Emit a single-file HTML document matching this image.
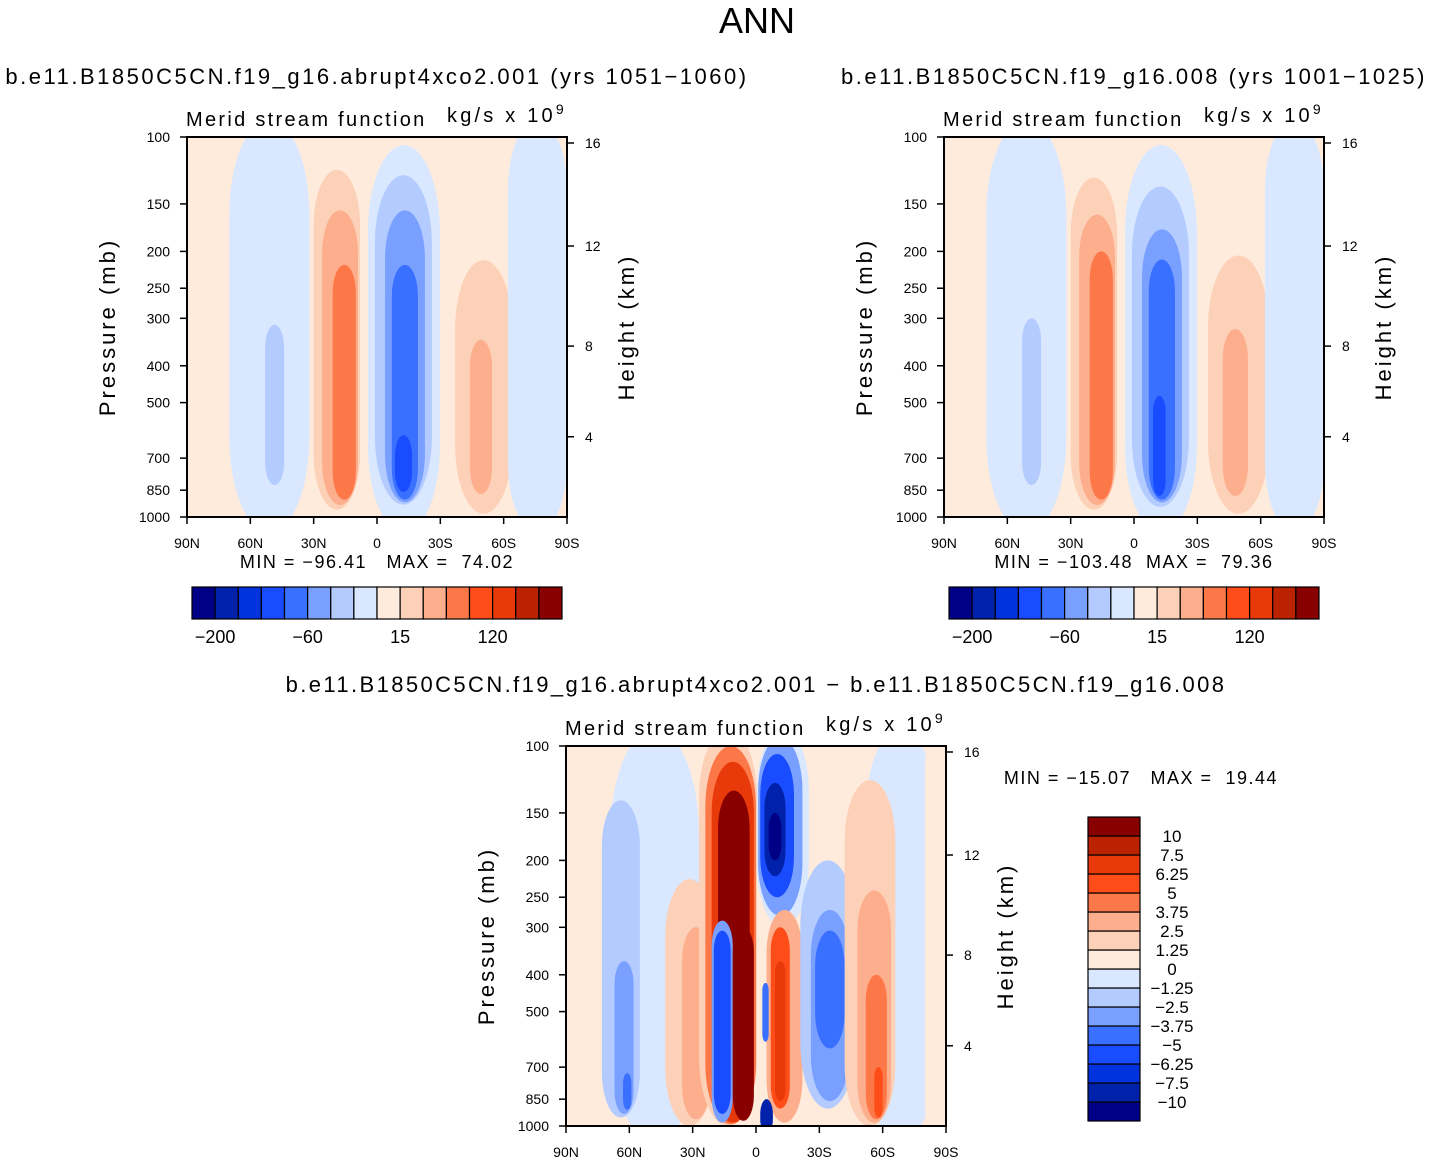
<!DOCTYPE html>
<html><head><meta charset="utf-8"><style>
body{margin:0;background:#fff;}
svg{display:block;font-family:"Liberation Sans",sans-serif;}
</style></head><body>
<svg id="s" width="1434" height="1163" viewBox="0 0 1434 1163" xmlns="http://www.w3.org/2000/svg">
<text x="757" y="33" font-size="36" text-anchor="middle">ANN</text>
</svg>
<script>
const colors=['#000086','#0022aa','#0033dd','#1a4cff','#3a70ff','#7aa0ff','#b3cbff','#d9e8ff','#ffebdb','#fdd0b8','#fdae8c','#fd7848','#ff4d1a','#e8390a','#bb2200','#880000'];
const pTicks=[100,150,200,250,300,400,500,700,850,1000];
const latTicks=[90,60,30,0,-30,-60,-90];
const latLabels=['90N','60N','30N','0','30S','60S','90S'];
const hTicks=[16,12,8,4];
const hPress=[103.7,193.6,355,615];
const cbLabelsTop=['-200','-60','15','120'];
const cbLabelsTopIdx=[1,5,9,13];
const cbLabelsDiff=['10','7.5','6.25','5','3.75','2.5','1.25','0','-1.25','-2.5','-3.75','-5','-6.25','-7.5','-10'];
// cells: [latNorth, latSouth, pTop, pBottom, level]
const cells1=[[70,32,90,1100,7],[53,44,312,824,6],[30,8,122,957,9],[26,9,156,930,10],[21,10,217,900,11],[4.3,-29.8,105,1100,7],[1,-26,126,928,6],[-3.8,-22.7,156,915,5],[-7,-19.4,217,900,4],[-8.5,-16.6,609,860,3],[-37,-64,211,980,9],[-44,-54.5,342,870,10],[-62,-90,90,1100,7]];
const cells2=[[70,32,90,1100,7],[53,44,300,824,6],[30,8,128,957,9],[26,9,160,930,10],[21,10,200,900,11],[4.3,-29.8,105,1100,7],[1,-26,135,940,6],[-3.8,-22.7,175,915,5],[-7,-19.4,210,900,4],[-9,-15,480,880,3],[-35,-64,205,980,9],[-42,-54,320,880,10],[-62,-90,90,1100,7]];
const cells3=[[69,27,90,1100,7],[73,55,139,950,6],[67,58,368,930,5],[63,59,726,906,4],[-52,-85,90,1100,7],[-80,-95,90,1100,8],[43,20,224,1000,9],[35,22,300,960,10],[27,-0.5,90,1000,9],[24,0,100,990,11],[21,1,110,980,13],[18,3,131,600,15],[21,11,288,980,5],[20,12,306,930,3],[11,1,300,969,15],[-0.5,-25,90,300,7],[-1,-22,95,280,5],[-2,-18,105,250,3],[-4,-14,125,220,1],[-6,-12,150,200,0],[-5,-22,270,980,10],[-7,-16,300,900,12],[-9,-14,368,860,13],[-3,-6,420,600,4],[-2,-8,850,1050,1],[-21,-47,200,900,6],[-26,-44,270,860,5],[-28,-42,306,625,4],[-42,-66,123,1000,9],[-48,-64,240,980,10],[-52,-62,400,960,11],[-56,-60,700,950,12]];
const NS='http://www.w3.org/2000/svg';
const svg=document.getElementById('s');
function el(t,a,p){const e=document.createElementNS(NS,t);for(const k in a)e.setAttribute(k,a[k]);(p||svg).appendChild(e);return e;}
function txt(x,y,s,size,anchor,p){const e=el('text',{x:x,y:y,'font-size':size,'text-anchor':anchor||'start'},p);e.textContent=s;return e;}
const W=380,H=380;
function panel(x0,y0,cells,name,clipId){
  const X=lat=>x0+(90-lat)/180*W;
  const Y=p=>y0+Math.log10(p/100)*H;
  const g=el('g',{});
  
  
  const cp=el('clipPath',{id:clipId},g);el('rect',{x:x0,y:y0,width:W,height:H},cp);
  const cg=el('g',{'clip-path':'url(#'+clipId+')'},g);
  el('rect',{x:x0,y:y0,width:W,height:H,fill:colors[8]},cg);
  cells.forEach(c=>{
    const xa=X(c[0]),xb=X(c[1]),ya=Y(c[2]),yb=Y(c[3]);
    const w=xb-xa,h=yb-ya;
    const r=el('rect',{x:xa,y:ya,width:w,height:h,rx:w/2,ry:Math.min(w*1.2,h/2),fill:colors[c[4]]},cg);
    
    
  });
  el('rect',{x:x0,y:y0,width:W,height:H,fill:'none',stroke:'#000','stroke-width':2},g);
  pTicks.forEach(p=>{const y=Y(p);el('line',{x1:x0-7,x2:x0,y1:y,y2:y,stroke:'#000','stroke-width':1.5},g);
    const t=txt(x0-17,y+5,String(p),14,'end',g);});
  latTicks.forEach((l,i)=>{const x=X(l);el('line',{x1:x,x2:x,y1:y0+H,y2:y0+H+7,stroke:'#000','stroke-width':1.5},g);
    const t=txt(x,y0+H+31,latLabels[i],14,'middle',g);});
  hTicks.forEach((h,i)=>{const y=Y(hPress[i]);el('line',{x1:x0+W,x2:x0+W+7,y1:y,y2:y,stroke:'#000','stroke-width':1.5},g);
    const t=txt(x0+W+18,y+5,String(h),14,'start',g);});
  let t=txt(0,0,'Pressure (mb)',22,'middle',g);t.setAttribute('transform','translate('+(x0-72)+','+(y0+190)+') rotate(-90)');t.setAttribute('letter-spacing','3');
  
  t=txt(0,0,'Height (km)',22,'middle',g);t.setAttribute('transform','translate('+(x0+W+67)+','+(y0+190)+') rotate(-90)');t.setAttribute('letter-spacing','3');
  
  t=txt(x0-1,y0-11,'Merid stream function',20,'start',g);t.setAttribute('letter-spacing','2.3');
  t=txt(x0+260,y0-15,'kg/s x 10',20,'start',g);t.setAttribute('letter-spacing','3.2');
  const sup=el('tspan',{dy:-8,'font-size':14},t);sup.textContent='9';
}
function hbar(x0,y0,name){
  const g=el('g',{});
  const bw=370/16;
  colors.forEach((c,i)=>{const r=el('rect',{x:x0+i*bw,y:y0,width:bw,height:32,fill:c,stroke:'#000','stroke-width':1.2},g);});
  cbLabelsTop.forEach((s,i)=>{const t=txt(x0+cbLabelsTopIdx[i]*bw,y0+56,s.replace('-','\u2212'),18,'middle',g);});
}
let t;
t=txt(377,84,'b.e11.B1850C5CN.f19_g16.abrupt4xco2.001 (yrs 1051\u22121060)',22,'middle');t.setAttribute('letter-spacing','2.5');
t=txt(1134,84,'b.e11.B1850C5CN.f19_g16.008 (yrs 1001\u22121025)',22,'middle');t.setAttribute('letter-spacing','2.5');
t=txt(756,692,'b.e11.B1850C5CN.f19_g16.abrupt4xco2.001 \u2212 b.e11.B1850C5CN.f19_g16.008',22,'middle');t.setAttribute('letter-spacing','2.4');
panel(187,137,cells1,'left-contour-plot','c1');
panel(944,137,cells2,'right-contour-plot','c2');
panel(566,746,cells3,'diff-contour-plot','c3');
t=txt(377,568,'MIN = \u221296.41   MAX =  74.02',18,'middle');t.style.whiteSpace='pre';t.setAttribute('letter-spacing','1.5');
t=txt(1134,568,'MIN = \u2212103.48  MAX =  79.36',18,'middle');t.style.whiteSpace='pre';t.setAttribute('letter-spacing','1.5');
t=txt(1141,784,'MIN = \u221215.07   MAX =  19.44',18,'middle');t.style.whiteSpace='pre';t.setAttribute('letter-spacing','1.5');
hbar(192,587,'left-colorbar');
hbar(949,587,'right-colorbar');
const vg=el('g',{});
const bh=304/16;
colors.forEach((c,i)=>{const r=el('rect',{x:1088,y:817+(15-i)*bh,width:52,height:bh,fill:c,stroke:'#000','stroke-width':1.2},vg);});
cbLabelsDiff.forEach((s,i)=>{const t=txt(1172,817+(i+1)*bh+6,s.replace('-','\u2212'),17,'middle',vg);});
</script>
</body></html>
